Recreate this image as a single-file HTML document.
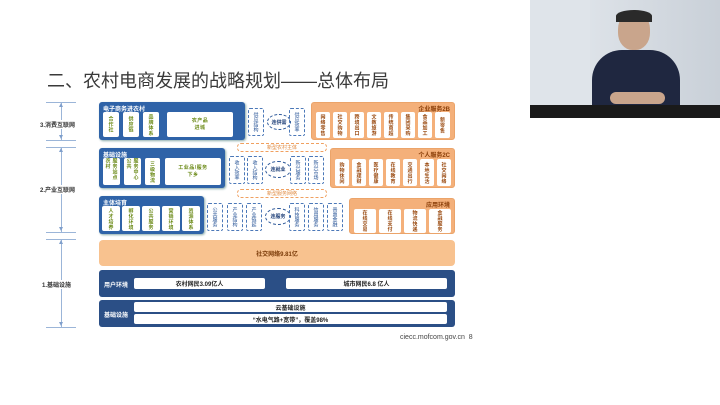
<!DOCTYPE html>
<html><head><meta charset="utf-8"><style>
*{margin:0;padding:0;box-sizing:border-box}
body{width:720px;height:405px;background:#fff;position:relative;overflow:hidden;font-family:"Liberation Sans","Noto Sans CJK SC",sans-serif}
div{position:absolute}
.b{background:#2f63a8;border-radius:3px;box-shadow:1px 1px 2px #8aa}
.bd{background:#2b4f86;border-radius:3px}
.o{background:#f4b07a;border-radius:3px;border:1px solid #eba46a}
.h{color:#fff;font-size:6px;font-weight:bold;left:4px;top:2px;white-space:nowrap}
.ho{color:#8a3e08;font-size:6px;font-weight:bold;right:4px;top:1px;white-space:nowrap}
.w{background:#fff;border-radius:2px;display:flex;align-items:center;justify-content:center;font-size:5px;color:#6b8a17;font-weight:bold;writing-mode:vertical-rl;letter-spacing:0.5px}
.wo{color:#9a4a10}
.hz{writing-mode:horizontal-tb;text-align:center;line-height:7px}
.d{border:1px dashed #4b78b8;border-radius:2px;display:flex;align-items:center;justify-content:center;font-size:5px;color:#2a5698;writing-mode:vertical-rl}
.c{border:1px dashed #2a5698;border-radius:50%;display:flex;align-items:center;justify-content:center;font-size:5px;color:#1e3f78;font-weight:bold}
.ob{border:1px dashed #f0a060;border-radius:4px;color:#e08a40;font-size:5px;display:flex;align-items:center;justify-content:center;background:#fff}
.lbl{font-size:6px;color:#333;font-weight:bold;white-space:nowrap}
.tick{height:1px;background:#9bb5d8;width:30px;left:46px}
.vl{width:1px;background:#9bb5d8;left:61px}
.au{left:59px;width:0;height:0;border-left:2.5px solid transparent;border-right:2.5px solid transparent;border-bottom:4px solid #7f9fcc}
.ad{left:59px;width:0;height:0;border-left:2.5px solid transparent;border-right:2.5px solid transparent;border-top:4px solid #7f9fcc}
.bar{background:#fff;border-radius:2px;font-size:6px;font-weight:bold;color:#222;display:flex;align-items:center;justify-content:center}
</style></head><body>
<div style="left:47px;top:67px;font-size:18px;color:#3a3a3a;white-space:nowrap">二、农村电商发展的战略规划——总体布局</div>
<div style="left:530px;top:0;width:190px;height:118px;background:#dfe4ea;overflow:hidden">
 <div style="left:60px;top:0;width:130px;height:105px;background:linear-gradient(90deg,#dde2e8,#c9d0d8)"></div>
 <div style="left:88px;top:12px;width:32px;height:38px;background:#c9a58c;border-radius:45%"></div>
 <div style="left:86px;top:10px;width:36px;height:12px;background:#2a2a2a;border-radius:50% 50% 0 0"></div>
 <div style="left:62px;top:50px;width:88px;height:58px;background:#1f2740;border-radius:30px 30px 0 0"></div>
 <div style="left:80px;top:92px;width:55px;height:12px;background:#c9a58c;border-radius:6px"></div>
 <div style="left:0;top:105px;width:190px;height:13px;background:#1a1a1a"></div>
</div>
<div class="tick" style="top:102px"></div><div class="tick" style="top:140px"></div>
<div class="tick" style="top:147px"></div><div class="tick" style="top:232px"></div>
<div class="tick" style="top:239px"></div><div class="tick" style="top:327px"></div>
<div class="vl" style="top:103px;height:37px"></div>
<div class="vl" style="top:148px;height:84px"></div>
<div class="vl" style="top:240px;height:87px"></div>
<div class="au" style="top:103px"></div><div class="ad" style="top:135px"></div>
<div class="au" style="top:148px"></div><div class="ad" style="top:227px"></div>
<div class="au" style="top:240px"></div><div class="ad" style="top:322px"></div>
<div class="lbl" style="left:40px;top:120px;background:#fff">3.消费互联网</div>
<div class="lbl" style="left:40px;top:185px;background:#fff">2.产业互联网</div>
<div class="lbl" style="left:42px;top:280px;background:#fff">1.基础设施</div>
<div class="b" style="left:99px;top:102px;width:146px;height:38px"><div class="h">电子商务进农村</div>
 <div class="w" style="left:4px;top:10px;width:16px;height:25px">合作社</div>
 <div class="w" style="left:24px;top:10px;width:16px;height:25px">供应链</div>
 <div class="w" style="left:44px;top:10px;width:16px;height:25px">品牌体系</div>
 <div class="w hz" style="left:68px;top:10px;width:66px;height:25px">农产品<br>进城</div>
</div>
<div class="b" style="left:99px;top:148px;width:126px;height:40px"><div class="h">基础设施</div>
 <div class="w" style="left:4px;top:10px;width:17px;height:27px">服务站点 农村</div>
 <div class="w" style="left:25px;top:10px;width:17px;height:27px">服务中心 公共</div>
 <div class="w" style="left:46px;top:10px;width:15px;height:27px">三级物流</div>
 <div class="w hz" style="left:66px;top:10px;width:56px;height:27px">工业品/服务<br>下乡</div>
</div>
<div class="b" style="left:99px;top:196px;width:105px;height:38px"><div class="h">主体培育</div>
 <div class="w" style="left:3px;top:10px;width:18px;height:25px">人才培养</div>
 <div class="w" style="left:23px;top:10px;width:18px;height:25px">孵化环境</div>
 <div class="w" style="left:43px;top:10px;width:18px;height:25px">公共服务</div>
 <div class="w" style="left:63px;top:10px;width:18px;height:25px">营销环境</div>
 <div class="w" style="left:83px;top:10px;width:18px;height:25px">资源体系</div>
</div>
<div class="d" style="left:248px;top:108px;width:16px;height:28px">供应结构</div>
<div class="c" style="left:267px;top:114px;width:24px;height:16px">连供需</div>
<div class="d" style="left:289px;top:108px;width:16px;height:28px">供应效率</div>
<div class="ob" style="left:237px;top:143px;width:90px;height:9px">新型农村主体</div>
<div class="d" style="left:229px;top:156px;width:16px;height:28px">收入效率</div>
<div class="d" style="left:247px;top:156px;width:16px;height:28px">收入结构</div>
<div class="c" style="left:265px;top:161px;width:26px;height:17px">连就业</div>
<div class="d" style="left:290px;top:156px;width:16px;height:28px">新兴服务</div>
<div class="d" style="left:308px;top:156px;width:16px;height:28px">新兴市场</div>
<div class="ob" style="left:237px;top:189px;width:90px;height:9px">新型服务网络</div>
<div class="d" style="left:207px;top:203px;width:16px;height:28px">公共服务</div>
<div class="d" style="left:227px;top:203px;width:16px;height:28px">产业结构</div>
<div class="d" style="left:246px;top:203px;width:16px;height:28px">产业链延</div>
<div class="c" style="left:265px;top:208px;width:26px;height:17px">连服务</div>
<div class="d" style="left:289px;top:203px;width:16px;height:28px">科技服务</div>
<div class="d" style="left:308px;top:203px;width:16px;height:28px">信用服务</div>
<div class="d" style="left:327px;top:203px;width:16px;height:28px">普惠金融</div>
<div class="o" style="left:311px;top:102px;width:144px;height:38px"><div class="ho">企业服务2B</div>
 <div class="w wo" style="left:4px;top:9px;width:14px;height:26px">网络零售</div>
 <div class="w wo" style="left:21px;top:9px;width:14px;height:26px">社交购物</div>
 <div class="w wo" style="left:38px;top:9px;width:14px;height:26px">跨境出口</div>
 <div class="w wo" style="left:55px;top:9px;width:14px;height:26px">文教旅游</div>
 <div class="w wo" style="left:72px;top:9px;width:14px;height:26px">传统商超</div>
 <div class="w wo" style="left:89px;top:9px;width:14px;height:26px">集团采购</div>
 <div class="w wo" style="left:106px;top:9px;width:14px;height:26px">食品加工</div>
 <div class="w wo" style="left:123px;top:9px;width:15px;height:26px">新零售</div>
</div>
<div class="o" style="left:330px;top:148px;width:125px;height:40px"><div class="ho">个人服务2C</div>
 <div class="w wo" style="left:4px;top:10px;width:14px;height:27px">购物休闲</div>
 <div class="w wo" style="left:21px;top:10px;width:14px;height:27px">金融理财</div>
 <div class="w wo" style="left:38px;top:10px;width:14px;height:27px">医疗健康</div>
 <div class="w wo" style="left:55px;top:10px;width:14px;height:27px">在线教育</div>
 <div class="w wo" style="left:72px;top:10px;width:14px;height:27px">交通出行</div>
 <div class="w wo" style="left:89px;top:10px;width:14px;height:27px">本地生活</div>
 <div class="w wo" style="left:106px;top:10px;width:14px;height:27px">社交网络</div>
</div>
<div class="o" style="left:349px;top:198px;width:106px;height:36px"><div class="ho">应用环境</div>
 <div class="w wo" style="left:4px;top:10px;width:22px;height:24px">在线交易</div>
 <div class="w wo" style="left:29px;top:10px;width:22px;height:24px">在线支付</div>
 <div class="w wo" style="left:54px;top:10px;width:22px;height:24px">物流快递</div>
 <div class="w wo" style="left:79px;top:10px;width:22px;height:24px">金融服务</div>
</div>
<div style="left:99px;top:240px;width:356px;height:26px;background:#f8c28f;border-radius:4px;display:flex;align-items:center;justify-content:center;font-size:6px;color:#7a3a08;font-weight:bold">社交网络9.81亿</div>
<div class="bd" style="left:99px;top:270px;width:356px;height:27px"><div class="h" style="top:10px;left:5px">用户环境</div>
 <div class="bar" style="left:35px;top:8px;width:131px;height:11px">农村网民3.09亿人</div>
 <div class="bar" style="left:187px;top:8px;width:161px;height:11px">城市网民6.8 亿人</div>
</div>
<div class="bd" style="left:99px;top:300px;width:356px;height:27px"><div class="h" style="top:10px;left:5px">基础设施</div>
 <div class="bar" style="left:35px;top:2px;width:313px;height:10px">云基础设施</div>
 <div class="bar" style="left:35px;top:14px;width:313px;height:10px">“水电气路+宽带”，覆盖98%</div>
</div>
<div style="left:400px;top:334px;font-size:7px;color:#444;white-space:nowrap">ciecc.mofcom.gov.cn&nbsp;&nbsp;8</div>
</body></html>
